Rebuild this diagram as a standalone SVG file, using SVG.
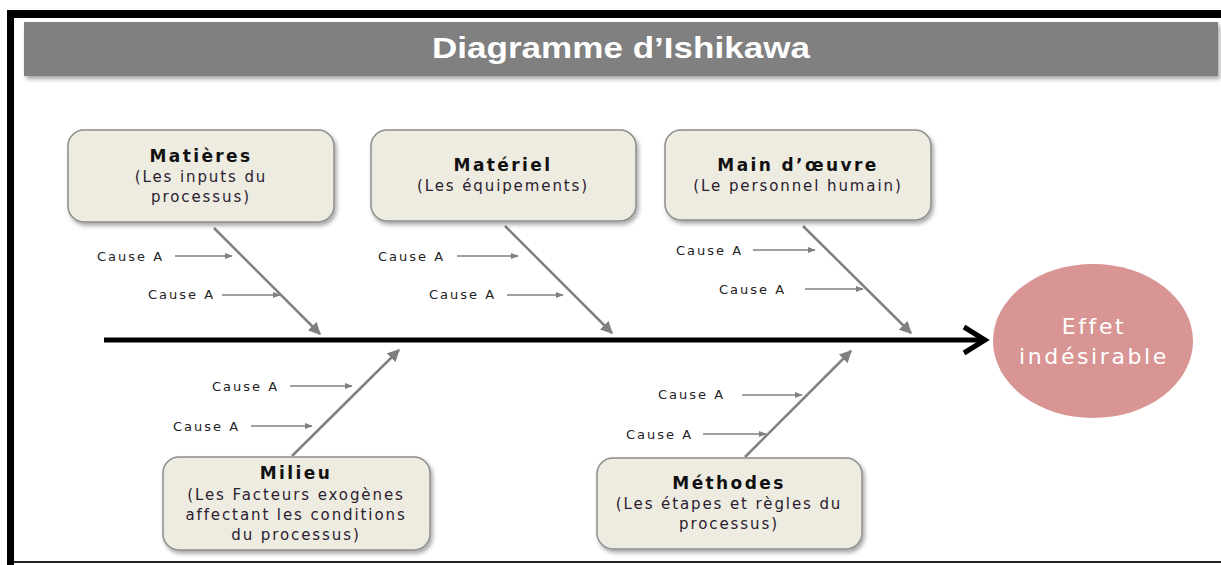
<svg xmlns="http://www.w3.org/2000/svg" width="1221" height="565" viewBox="0 0 1221 565">
<defs>
<filter id="sh" x="-10%" y="-10%" width="125%" height="135%">
<feDropShadow dx="2" dy="3" stdDeviation="2" flood-color="#000" flood-opacity="0.35"/>
</filter>
<marker id="ag" viewBox="0 0 10 10" refX="9" refY="5" markerWidth="5" markerHeight="5" markerUnits="strokeWidth" orient="auto">
<path d="M0,0 L10,5 L0,10 z" fill="#808080"/>
</marker>
<marker id="as" viewBox="0 0 10 10" refX="9" refY="5" markerWidth="6" markerHeight="6" markerUnits="strokeWidth" orient="auto">
<path d="M0,1 L10,5 L0,9 z" fill="#808080"/>
</marker>
</defs>
<style>
.box{fill:#eeece1;stroke:#8c8c8c;stroke-width:1.5;filter:url(#sh)}
.h{font-family:"DejaVu Sans",Verdana,sans-serif;font-weight:bold;font-size:17px;letter-spacing:2.4px;fill:#111;text-anchor:middle}
.s{font-family:"DejaVu Sans",Verdana,sans-serif;font-size:15px;letter-spacing:1.9px;fill:#2a2030;text-anchor:middle}
.c{font-family:"DejaVu Sans",Verdana,sans-serif;font-size:13px;letter-spacing:2px;fill:#222}
.e{font-family:"DejaVu Sans",Verdana,sans-serif;font-size:22px;letter-spacing:2.6px;fill:#fff;text-anchor:middle}
.bone{stroke:#808080;stroke-width:2.5;fill:none;marker-end:url(#ag)}
.ca{stroke:#808080;stroke-width:1.3;fill:none;marker-end:url(#as)}
</style>
<rect width="1221" height="565" fill="#fff"/>
<rect x="7" y="10" width="1214" height="8" fill="#000"/>
<rect x="7" y="10" width="7" height="555" fill="#000"/>
<rect x="14" y="561" width="1207" height="2" fill="#222"/>
<g id="title">
<rect x="24" y="22" width="1194" height="54" fill="#808080" filter="url(#sh)"/>
<text x="432" y="58" textLength="378" lengthAdjust="spacingAndGlyphs" font-family="'Liberation Sans',Arial,sans-serif" font-weight="bold" font-size="30" fill="#fff">Diagramme d’Ishikawa</text>
</g>
<g id="connectors">
<line x1="104" y1="340" x2="982" y2="340" stroke="#000" stroke-width="5"/>
<path d="M964,327 L985,340 L964,353" fill="none" stroke="#000" stroke-width="5" stroke-linejoin="miter"/>
<line class="bone" x1="214" y1="228" x2="320" y2="334"/>
<line class="bone" x1="505" y1="226" x2="612" y2="333"/>
<line class="bone" x1="803" y1="226" x2="911" y2="333"/>
<line class="bone" x1="292" y1="456" x2="399" y2="350"/>
<line class="bone" x1="745" y1="457" x2="851" y2="351"/>
<line class="ca" x1="175" y1="256" x2="232" y2="256"/>
<line class="ca" x1="222" y1="295" x2="280" y2="295"/>
<line class="ca" x1="457" y1="256" x2="518" y2="256"/>
<line class="ca" x1="507" y1="295" x2="563" y2="295"/>
<line class="ca" x1="753" y1="250" x2="815" y2="250"/>
<line class="ca" x1="805" y1="289" x2="863" y2="289"/>
<line class="ca" x1="290" y1="386" x2="352" y2="386"/>
<line class="ca" x1="251" y1="426" x2="312" y2="426"/>
<line class="ca" x1="742" y1="395" x2="802" y2="395"/>
<line class="ca" x1="703" y1="434" x2="766" y2="434"/>
</g>
<g id="causes">
<text class="c" x="97" y="261">Cause A</text>
<text class="c" x="148" y="299">Cause A</text>
<text class="c" x="378" y="261">Cause A</text>
<text class="c" x="429" y="299">Cause A</text>
<text class="c" x="676" y="255">Cause A</text>
<text class="c" x="719" y="294">Cause A</text>
<text class="c" x="212" y="391">Cause A</text>
<text class="c" x="173" y="431">Cause A</text>
<text class="c" x="658" y="399">Cause A</text>
<text class="c" x="626" y="439">Cause A</text>
</g>
<g id="matieres">
<rect class="box" x="68" y="130" width="266" height="92" rx="16"/>
<text class="h" x="201" y="162">Matières</text>
<text class="s" x="201" y="182">(Les inputs du</text>
<text class="s" x="201" y="202">processus)</text>
</g>
<g id="materiel">
<rect class="box" x="371" y="130" width="265" height="91" rx="16"/>
<text class="h" x="503" y="171">Matériel</text>
<text class="s" x="503" y="191">(Les équipements)</text>
</g>
<g id="main-oeuvre">
<rect class="box" x="665" y="130" width="266" height="90" rx="16"/>
<text class="h" x="798" y="171">Main d’œuvre</text>
<text class="s" x="798" y="191">(Le personnel humain)</text>
</g>
<g id="milieu">
<rect class="box" x="163" y="457" width="267" height="93" rx="16"/>
<text class="h" x="296" y="479">Milieu</text>
<text class="s" x="296" y="500">(Les Facteurs exogènes</text>
<text class="s" x="296" y="520">affectant les conditions</text>
<text class="s" x="296" y="540">du processus)</text>
</g>
<g id="methodes">
<rect class="box" x="597" y="458" width="265" height="91" rx="16"/>
<text class="h" x="729" y="489">Méthodes</text>
<text class="s" x="729" y="509">(Les étapes et règles du</text>
<text class="s" x="729" y="529">processus)</text>
</g>
<g id="effet">
<ellipse cx="1093" cy="341" rx="100" ry="77" fill="#d99594"/>
<text class="e" x="1094" y="334">Effet</text>
<text class="e" x="1094" y="364">indésirable</text>
</g>
</svg>
